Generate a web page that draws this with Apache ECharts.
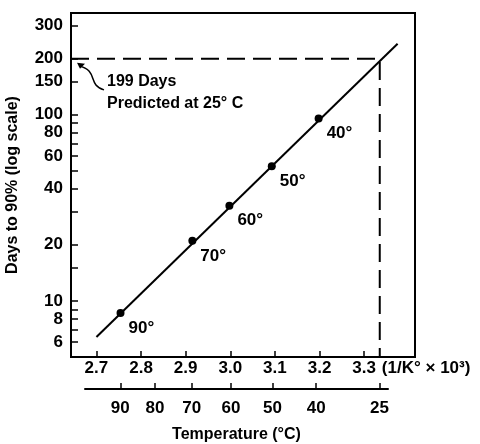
<!DOCTYPE html>
<html>
<head>
<meta charset="utf-8">
<script src="https://cdn.jsdelivr.net/npm/echarts@6/dist/echarts.min.js"></script>
<style>
  html, body { margin: 0; padding: 0; background: #fff; }
</style>
</head>
<body>
<div id="main" style="width: 480px; height: 444px"></div>
<script>
// measured points: 1/K x 10^3 and days to 90%
var invK = [2.754, 2.915, 2.998, 3.093, 3.198];
var days = [8.6, 21.0, 32.4, 52.8, 95.2];
var pointTemps = ['90°', '70°', '60°', '50°', '40°'];

// fitted line end points
var fitInvK = [2.70, 3.375];
var fitDays = [6.4, 240];

// prediction at 25 C
var predInvK = 3.335;
var predDays = 199;

// axis ticks
var xTicks = [2.7, 2.8, 2.9, 3.0, 3.1, 3.2, 3.3];
var yLabels = [6, 8, 10, 20, 40, 60, 80, 100, 150, 200, 300];
var yTicks = [6, 7, 8, 9, 10, 15, 20, 30, 40, 50, 60, 70, 80, 90, 100, 150, 200, 300];
var tempLabels = ['90', '80', '70', '60', '50', '40', '25'];
var tempInvK = [2.754, 2.832, 2.914, 3.002, 3.095, 3.193, 3.335];

var lg = function (v) { return Math.log10(v); };
var font = 'Liberation Sans';

var chart = echarts.init(document.getElementById('main'));
chart.setOption({
  animation: false,
  textStyle: { fontFamily: font, color: '#000' },
  grid: [
    { left: 71, right: 65, top: 13, bottom: 87, show: true, borderColor: '#000', borderWidth: 2, outerBoundsMode: 'none' },
    { left: 85, width: 303, top: 379, height: 10, outerBoundsMode: 'none' }
  ],
  xAxis: [
    {
      type: 'value', gridIndex: 0, min: 2.643, max: 3.414,
      splitLine: { show: false },
      axisLine: { lineStyle: { color: '#000', width: 2 } },
      axisTick: { inside: true, length: 6, customValues: xTicks, lineStyle: { color: '#000', width: 1.5 } },
      axisLabel: {
        customValues: xTicks, margin: 3, color: '#000', fontSize: 17, fontWeight: 'bold',
        formatter: function (v) { return v.toFixed(1); }
      },
      name: '(1/K° × 10³)', nameLocation: 'end', nameGap: -37,
      nameTextStyle: { color: '#000', fontSize: 17, fontWeight: 'bold', verticalAlign: 'top', padding: [3, 0, 0, 0] }
    },
    {
      type: 'value', gridIndex: 1, min: 2.675, max: 3.354, position: 'bottom',
      splitLine: { show: false },
      axisLine: { lineStyle: { color: '#000', width: 2 } },
      axisTick: { inside: true, length: 6, customValues: tempInvK, lineStyle: { color: '#000', width: 1.5 } },
      axisLabel: {
        customValues: tempInvK, margin: 11, color: '#000', fontSize: 17, fontWeight: 'bold',
        formatter: function (v) {
          var best = 0;
          tempInvK.forEach(function (t, i) { if (Math.abs(t - v) < Math.abs(tempInvK[best] - v)) best = i; });
          return tempLabels[best];
        }
      },
      name: 'Temperature (°C)', nameLocation: 'middle', nameGap: 38,
      nameTextStyle: { color: '#000', fontSize: 16, fontWeight: 'bold' }
    }
  ],
  yAxis: [
    {
      type: 'value', gridIndex: 0, min: lg(5), max: 2.545,
      splitLine: { show: false },
      axisLine: { show: true, lineStyle: { color: '#000', width: 2 } },
      axisTick: { show: true, inside: true, length: 7, customValues: yTicks.map(lg), lineStyle: { color: '#000', width: 1.5 } },
      axisLabel: {
        customValues: yLabels.map(lg), margin: 8, color: '#000', fontSize: 17, fontWeight: 'bold',
        formatter: function (v) { return String(Math.round(Math.pow(10, v))); }
      },
      name: 'Days to 90% (log scale)', nameLocation: 'middle', nameGap: 50,
      nameTextStyle: { color: '#000', fontSize: 16, fontWeight: 'bold' }
    },
    { type: 'value', gridIndex: 1, show: false }
  ],
  series: [
    {
      type: 'line', xAxisIndex: 0, yAxisIndex: 0, symbol: 'none', silent: true,
      lineStyle: { color: '#000', width: 2, type: [18, 8] },
      data: [[2.643, lg(predDays)], [predInvK, lg(predDays)], [predInvK, lg(5)]]
    },
    {
      type: 'line', xAxisIndex: 0, yAxisIndex: 0, symbol: 'none', silent: true,
      lineStyle: { color: '#000', width: 2 },
      data: fitInvK.map(function (x, i) { return [x, lg(fitDays[i])]; })
    },
    {
      type: 'scatter', xAxisIndex: 0, yAxisIndex: 0, symbolSize: 8,
      itemStyle: { color: '#000', opacity: 1 },
      label: {
        show: true, position: 'right', distance: 4, offset: [0, 15], color: '#000', opacity: 1,
        fontSize: 17, fontWeight: 'bold',
        formatter: function (p) { return pointTemps[p.dataIndex]; }
      },
      data: invK.map(function (x, i) { return [x, lg(days[i])]; })
    }
  ]
});

// annotation: 199 days predicted at 25 C
var tip = chart.convertToPixel({ gridIndex: 0 }, [2.643, lg(predDays)]);
var ax = tip[0] + 6, ay = tip[1] + 4;
chart.setOption({
  graphic: [
    {
      type: 'bezierCurve',
      shape: { x1: ax + 27, y1: ay + 27, x2: ax + 2, y2: ay + 3, cpx1: ax + 10, cpy1: ay + 22, cpx2: ax + 22, cpy2: ay + 8 },
      style: { stroke: '#000', lineWidth: 1.5, fill: null }
    },
    {
      type: 'polygon',
      shape: { points: [[ax, ay], [ax + 8, ay + 1], [ax + 3, ay + 6]] },
      style: { fill: '#000' }
    },
    {
      type: 'text', left: ax + 30, top: ay + 8,
      style: { text: '199 Days\nPredicted at 25° C', font: 'bold 16px ' + font, fill: '#000', lineHeight: 22 }
    }
  ]
});
</script>
</body>
</html>
